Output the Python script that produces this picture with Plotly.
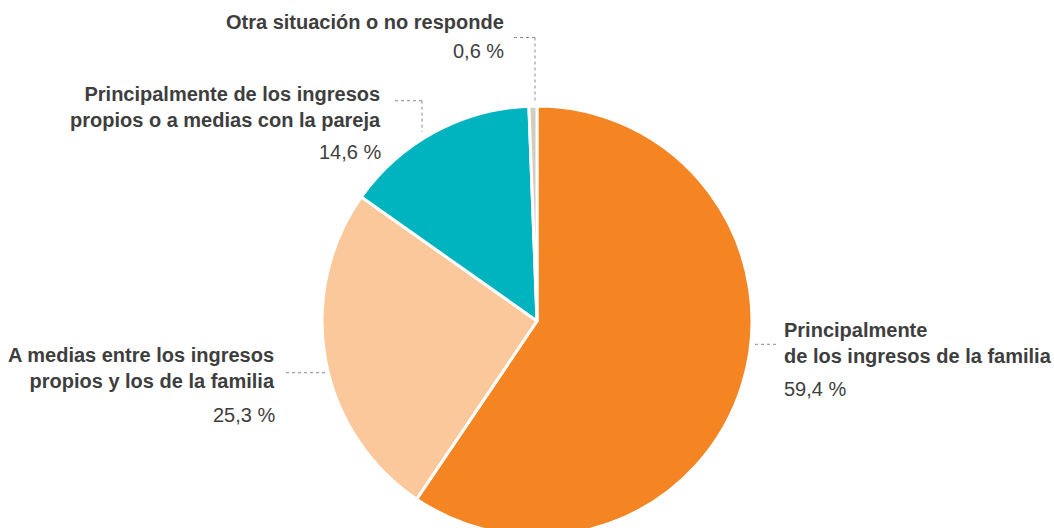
import plotly.graph_objects as go

# ---- data ----
categories = [
    "Principalmente<br>de los ingresos de la familia",
    "A medias entre los ingresos<br>propios y los de la familia",
    "Principalmente de los ingresos<br>propios o a medias con la pareja",
    "Otra situación o no responde",
]
values = [59.4, 25.3, 14.6, 0.6]
value_labels = ["59,4 %", "25,3 %", "14,6 %", "0,6 %"]
colors = ["#F58423", "#FBC89C", "#00B4BF", "#D1CDC1"]

W, H = 1054, 540


def px(x):
    return x / W


def py(y):
    return 1 - y / H


fig = go.Figure()
fig.add_trace(go.Pie(
    values=values,
    labels=[c.replace("<br>", " ") for c in categories],
    marker=dict(colors=colors, line=dict(color="white", width=3)),
    sort=False,
    direction="clockwise",
    rotation=0,
    textinfo="none",
    hoverinfo="label+percent",
    showlegend=False,
    domain=dict(x=[px(322), px(752)], y=[py(536), py(106)]),
))

TXT = "#3e3e3e"
FONT = "Liberation Sans, Arial, sans-serif"

# label layout: (title x, title y, title anchor, pct y)
label_pos = [
    (782, 342.7, "left", 388.5),
    (277, 368.3, "right", 415),
    (383, 107, "right", 151.5),
    (506, 22.5, "right", 51.5),
]

annotations = []
for cat, vl, (x, ty, anc, vy) in zip(categories, value_labels, label_pos):
    annotations.append(dict(
        x=px(x), y=py(ty), xref="paper", yref="paper",
        xanchor=anc, yanchor="middle", align=anc,
        text="<b>" + cat + "</b>", showarrow=False,
        font=dict(family=FONT, size=20, color=TXT),
    ))
    annotations.append(dict(
        x=px(x), y=py(vy), xref="paper", yref="paper",
        xanchor=anc, yanchor="middle", align=anc,
        text=vl, showarrow=False,
        font=dict(family=FONT, size=20, color=TXT),
    ))

# dotted leader lines
leaders = [
    [(755, 344.3), (779, 344.3)],
    [(286, 372.7), (325, 372.7)],
    [(395, 100.7), (422, 100.7), (422, 131.7)],
    [(514, 37.5), (535, 37.5), (535, 101)],
]
shapes = []
for pts in leaders:
    for (x0, y0), (x1, y1) in zip(pts[:-1], pts[1:]):
        shapes.append(dict(
            type="line", xref="paper", yref="paper",
            x0=px(x0), y0=py(y0), x1=px(x1), y1=py(y1),
            line=dict(color="#8a8a8a", width=1, dash="dot"),
        ))

fig.update_layout(
    width=W, height=H,
    margin=dict(l=0, r=0, t=0, b=0),
    paper_bgcolor="white", plot_bgcolor="white",
    annotations=annotations, shapes=shapes,
)

fig.write_html(
    "out.html",
    config={"displayModeBar": False},
    post_script="document.body.style.margin='0';document.body.style.overflow='hidden';document.documentElement.style.overflow='hidden';",
)
